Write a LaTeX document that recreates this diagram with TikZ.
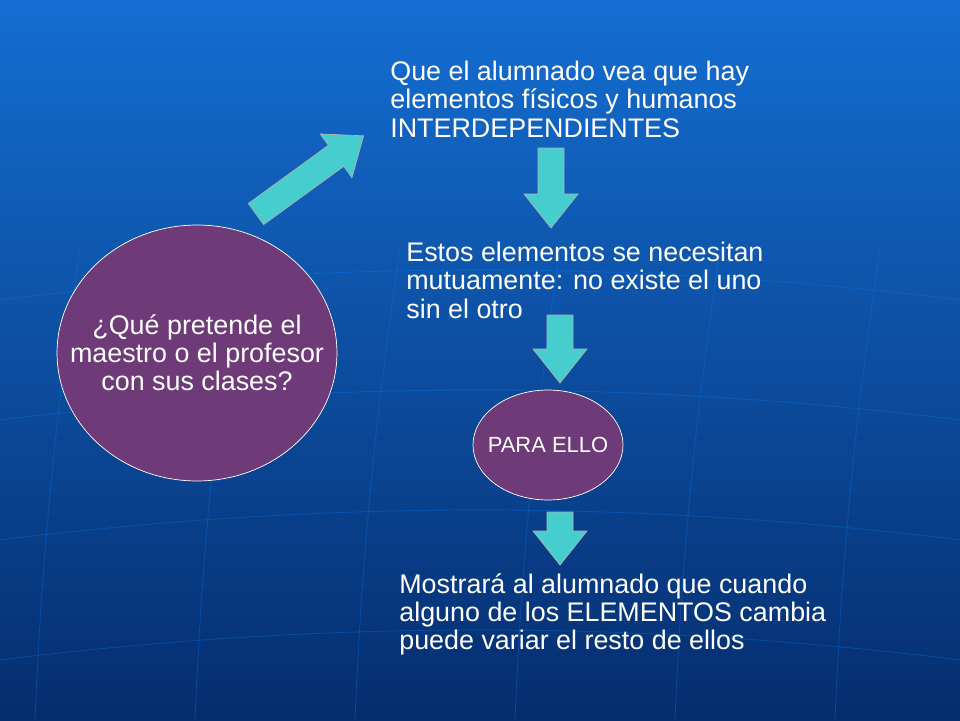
\documentclass[tikz,border=0pt]{standalone}
\usepackage{fontspec}
\setmainfont{Liberation Sans}
\usetikzlibrary{shapes.geometric}
\definecolor{bgtop}{RGB}{20,110,210}
\definecolor{bgbot}{RGB}{5,45,110}
\definecolor{plum}{RGB}{110,58,120}
\definecolor{teal}{RGB}{70,205,205}
\tikzset{
  blob/.style={ellipse, draw=white, thin, fill=plum, inner sep=0pt},
  words/.style={text=white, inner sep=0pt, font=\fontsize{15.3}{16}\selectfont, align=center},
  txt/.style={words, align=left, anchor=north west},
  % block arrow pointing along +x: length #1, shaft half width 13, head half width 27, head length 34 (px)
  blockarrow/.pic={
    \draw[gray!60, fill=teal] (0,-13) -- (#1-34,-13) -- (#1-34,-27) -- (#1,0) -- (#1-34,27) -- (#1-34,13) -- (0,13) -- cycle;
  },
}
\begin{document}
\begin{tikzpicture}[x=0.02cm, y=-0.02cm]
%background
	\shade[top color=bgtop, bottom color=bgbot] (0,0) rectangle (960,720);
	\useasboundingbox (0,0) rectangle (960,720);
%grid
	\foreach \x in {80,240,400,560,720,880}{
		\draw[blue!50!cyan, opacity=0.35] (\x,250) .. controls (\x-30,450) and (\x-40,600) .. (\x-45,720);
	}
	\foreach \y in {300,420,540,660}{
		\draw[blue!50!cyan, opacity=0.35] (0,\y) .. controls (320,\y-40) and (640,\y-40) .. (960,\y);
	}
%ellipses
	\node[blob, minimum width=5.6cm, minimum height=5.12cm] (goal) at (197,353) {};
	\node[words] (goaltext) at (goal.center) {¿Qué pretende el\\ maestro o el profesor\\ con sus clases?};
	\node[blob, minimum width=3cm, minimum height=2.2cm] (para) at (548,445) {};
	\node[words, font=\fontsize{12.5}{14}\selectfont] (paratext) at (para.center) {PARA ELLO};
%texts
	\node[txt] (t1) at (390,61) {Que el alumnado vea que hay\\elementos físicos y humanos\\INTERDEPENDIENTES};
	\node[txt] (t2) at (406,242) {Estos elementos se necesitan\\mutuamente: no existe el uno\\sin el otro};
	\node[txt] (t3) at (399,573) {Mostrará al alumnado que cuando\\alguno de los ELEMENTOS cambia\\puede variar el resto de ellos};
%arrows
	\pic[rotate=36] at (256,214) {blockarrow=133};
	\pic[rotate=-90] at (551,148) {blockarrow=80};
	\pic[rotate=-90] at (560,315) {blockarrow=68};
	\pic[rotate=-90] at (560,512) {blockarrow=53};
\end{tikzpicture}
\end{document}
